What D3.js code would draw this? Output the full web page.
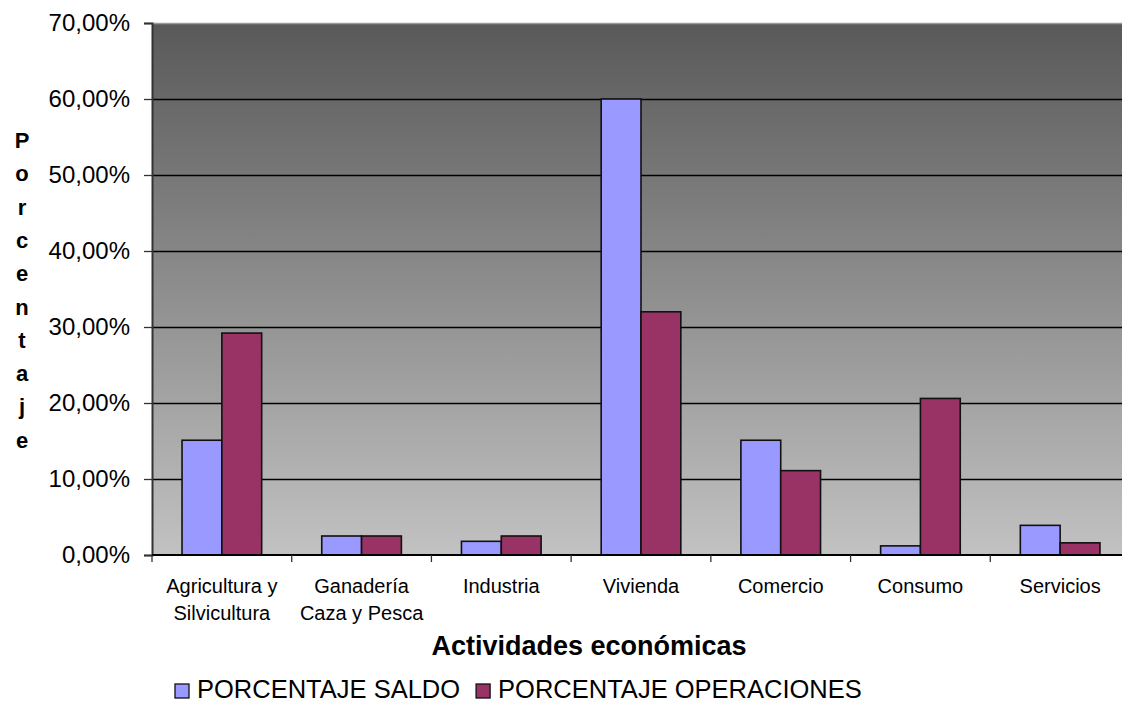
<!DOCTYPE html>
<html>
<head>
<meta charset="utf-8">
<script src="https://cdn.jsdelivr.net/npm/d3@7"></script>
<style>
  html, body { margin: 0; padding: 0; background: #fff; }
  svg { display: block; font-family: "Liberation Sans", Arial, sans-serif; }
</style>
</head>
<body>
<svg id="chart" width="1122" height="704"></svg>
<script>
// Distribución por actividad económica
const categories = [
  ["Agricultura y", "Silvicultura"],
  ["Ganadería", "Caza y Pesca"],
  ["Industria"],
  ["Vivienda"],
  ["Comercio"],
  ["Consumo"],
  ["Servicios"]
];
const saldo =       [15.1, 2.5, 1.8, 60.0, 15.1, 1.2, 3.9];
const operaciones = [29.2, 2.5, 2.5, 32.0, 11.1, 20.6, 1.6];
const seriesNames = ["PORCENTAJE SALDO", "PORCENTAJE OPERACIONES"];
const seriesColors = ["#9999ff", "#993366"];
const yTicks = [0, 10, 20, 30, 40, 50, 60, 70];
const yTitle = "Porcentaje";
const xTitle = "Actividades económicas";

const svg = d3.select("#chart");
const plot = { left: 152, top: 23, right: 1130, bottom: 555 };

const x = d3.scaleBand()
  .domain(d3.range(categories.length))
  .range([plot.left, plot.right])
  .paddingInner(0.43).paddingOuter(0.215);
const step = x.step();
const xs = d3.scaleBand().domain([0, 1]).range([0, x.bandwidth()]);
const y = d3.scaleLinear().domain([0, 70]).range([plot.bottom, plot.top]);

// background gradient of the plot area
const defs = svg.append("defs");
const grad = defs.append("linearGradient").attr("id", "bg")
  .attr("x1", 0).attr("y1", 0).attr("x2", 0).attr("y2", 1);
grad.append("stop").attr("offset", "0%").attr("stop-color", "#595959");
grad.append("stop").attr("offset", "100%").attr("stop-color", "#c2c2c2");

svg.append("rect")
  .attr("x", plot.left).attr("y", plot.top)
  .attr("width", plot.right - plot.left).attr("height", plot.bottom - plot.top)
  .attr("fill", "url(#bg)");
svg.append("line")
  .attr("x1", plot.left).attr("x2", plot.right)
  .attr("y1", plot.top + 0.5).attr("y2", plot.top + 0.5)
  .attr("stroke", "#9a9a9a").attr("stroke-width", 1.5);

// horizontal gridlines
svg.append("g").selectAll("line")
  .data(yTicks.filter(d => d > 0 && d < 70))
  .join("line")
  .attr("x1", plot.left).attr("x2", plot.right)
  .attr("y1", d => Math.round(y(d)) + 0.5).attr("y2", d => Math.round(y(d)) + 0.5)
  .attr("stroke", "#000").attr("stroke-width", 1.3);

// y axis
const yAxis = svg.append("g")
  .attr("transform", `translate(${plot.left},0)`)
  .call(d3.axisLeft(y).tickValues(yTicks).tickSize(8).tickPadding(14)
    .tickFormat(d => d3.format(".2f")(d).replace(".", ",") + "%"));
yAxis.select(".domain").attr("stroke", "#333").attr("stroke-width", 2);
yAxis.selectAll(".tick line").attr("stroke", "#333").attr("stroke-width", 1.3);
yAxis.selectAll(".tick text")
  .attr("font-size", 24).attr("fill", "#000")
  .attr("font-family", "'Liberation Sans', Arial, sans-serif");

// bars
const groups = svg.append("g").selectAll("g")
  .data(categories.map((c, i) => ({ i, vals: [saldo[i], operaciones[i]] })))
  .join("g")
  .attr("transform", d => `translate(${x(d.i)},0)`);
groups.selectAll("rect")
  .data(d => d.vals.map((v, s) => ({ v, s })))
  .join("rect")
  .attr("x", d => xs(d.s))
  .attr("width", xs.bandwidth())
  .attr("y", d => y(d.v))
  .attr("height", d => y(0) - y(d.v))
  .attr("fill", d => seriesColors[d.s])
  .attr("stroke", "#111").attr("stroke-width", 1.6);

// x axis
const boundaries = d3.range(categories.length + 1).map(i => plot.left + i * step);
const xAxisG = svg.append("g");
xAxisG.append("line")
  .attr("x1", plot.left).attr("x2", plot.right)
  .attr("y1", plot.bottom).attr("y2", plot.bottom)
  .attr("stroke", "#000").attr("stroke-width", 2);
xAxisG.selectAll("line.tk").data(boundaries).join("line")
  .attr("class", "tk")
  .attr("x1", d => d).attr("x2", d => d)
  .attr("y1", plot.bottom).attr("y2", plot.bottom + 7)
  .attr("stroke", "#333").attr("stroke-width", 1.3);
const labels = xAxisG.selectAll("text.cat")
  .data(categories.map((c, i) => ({ c, i })))
  .join("text")
  .attr("class", "cat")
  .attr("text-anchor", "middle")
  .attr("font-size", 20)
  .attr("fill", "#000");
labels.selectAll("tspan")
  .data(d => d.c.map((t, k) => ({ t, k, i: d.i })))
  .join("tspan")
  .attr("x", d => x(d.i) + x.bandwidth() / 2)
  .attr("y", d => 593 + d.k * 27)
  .text(d => d.t);

// axis titles
svg.append("text")
  .attr("x", 589).attr("y", 655)
  .attr("text-anchor", "middle")
  .attr("font-size", 27).attr("font-weight", "bold")
  .text(xTitle);

svg.append("text")
  .attr("text-anchor", "middle")
  .attr("font-size", 22).attr("font-weight", "bold")
  .selectAll("tspan")
  .data(yTitle.split(""))
  .join("tspan")
  .attr("x", 22)
  .attr("y", (d, i) => 148 + i * 33.3)
  .text(d => d);

// legend
const legend = svg.append("g").attr("transform", "translate(175,684)");
let lx = 0;
seriesNames.forEach((name, s) => {
  const g = legend.append("g").attr("transform", `translate(${lx},0)`);
  g.append("rect").attr("width", 14).attr("height", 14)
    .attr("fill", seriesColors[s]).attr("stroke", "#111").attr("stroke-width", 1.3);
  const t = g.append("text").attr("x", 22).attr("y", 14)
    .attr("font-size", 25.5).attr("fill", "#000").text(name);
  lx += 22 + t.node().getComputedTextLength() + 16;
});
</script>
</body>
</html>
